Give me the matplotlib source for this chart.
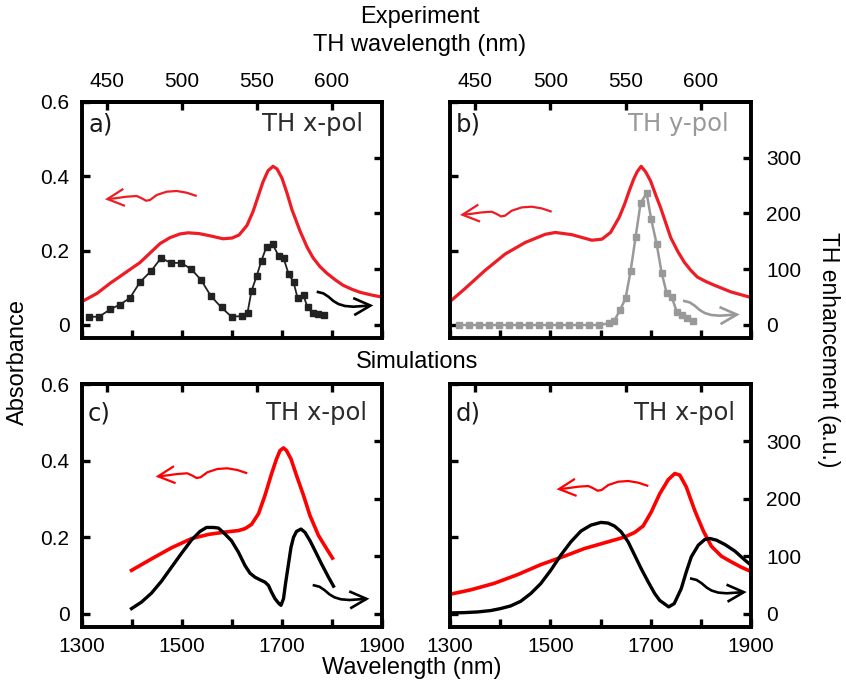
import numpy as np
import matplotlib
matplotlib.use('Agg')
import matplotlib.pyplot as plt
from matplotlib.path import Path
from matplotlib.patches import FancyArrowPatch
import matplotlib.transforms as mtransforms

plt.rcParams['font.family'] = ['Liberation Sans', 'DejaVu Sans']

# ---------------- data ----------------
# panel a: experiment, x-pol
abs_a_wl = [1300, 1330, 1356, 1386, 1416, 1456, 1476, 1496, 1512, 1534, 1556, 1582, 1600, 1614,
            1630, 1642, 1652, 1662, 1672, 1682, 1690, 1700, 1710, 1720, 1736, 1750, 1762, 1776,
            1790, 1806, 1822, 1840, 1856, 1878, 1900]
abs_a = [0.063, 0.085, 0.112, 0.140, 0.168, 0.219, 0.235, 0.245, 0.248, 0.246, 0.240, 0.232, 0.234, 0.242,
         0.268, 0.305, 0.345, 0.385, 0.415, 0.427, 0.420, 0.395, 0.355, 0.310, 0.253, 0.210, 0.181, 0.157,
         0.139, 0.122, 0.107, 0.096, 0.088, 0.081, 0.075]
th_a_wl = [1314, 1334, 1356, 1376, 1396, 1416, 1438, 1458, 1478, 1498, 1518, 1538, 1558, 1579, 1599,
           1619, 1631, 1639, 1649, 1659, 1669, 1681, 1693, 1703, 1713, 1723, 1731, 1743, 1751, 1761,
           1771, 1783]
th_a = [14.8, 14.8, 27.8, 36.7, 48.6, 77.0, 96.6, 120.0, 111.4, 111.4, 100.7, 81.0, 51.5, 31.4, 14.8,
        16.0, 21.9, 61.0, 87.0, 115.6, 140.5, 145.2, 124.5, 120.3, 92.0, 77.0, 49.0, 53.0, 31.4, 21.9,
        19.0, 17.8]

# panel b: experiment, y-pol
abs_b_wl = [1300, 1330, 1370, 1410, 1450, 1490, 1510, 1543, 1583, 1603, 1620, 1637, 1648, 1657,
            1666, 1673, 1681, 1690, 1700, 1710, 1720, 1740, 1754, 1767, 1780, 1793, 1810, 1827,
            1860, 1900]
abs_b = [0.063, 0.098, 0.147, 0.191, 0.222, 0.244, 0.249, 0.243, 0.228, 0.231, 0.249, 0.289, 0.325, 0.360,
         0.392, 0.412, 0.427, 0.412, 0.387, 0.350, 0.315, 0.235, 0.198, 0.169, 0.147, 0.129, 0.117, 0.107,
         0.089, 0.074]
th_b_wl = [1317, 1337, 1357, 1377, 1397, 1417, 1437, 1457, 1477, 1497, 1517, 1537, 1557, 1577, 1597,
           1617, 1627, 1639, 1650, 1660, 1670, 1680, 1692, 1701, 1712, 1722, 1732, 1742, 1752, 1762,
           1772, 1784]
th_b = [0, 0, 0, 0, 0, 0, 0, 0, 0, 0, 0, 0, 0, 0, 0,
        3, 7, 26.7, 48, 96.6, 158, 219, 236, 190, 145, 93, 57, 50, 24, 17.8,
        11.9, 8]

# panel c: simulation, x-pol
abs_c_wl = [1399, 1439, 1479, 1519, 1553, 1586, 1613, 1626, 1639, 1653, 1666, 1679, 1689, 1696,
            1703, 1709, 1718, 1729, 1743, 1756, 1773, 1789, 1801]
abs_c = [0.113, 0.143, 0.172, 0.196, 0.207, 0.213, 0.217, 0.222, 0.233, 0.261, 0.309, 0.365, 0.404, 0.426,
         0.433, 0.426, 0.404, 0.361, 0.309, 0.256, 0.204, 0.170, 0.145]
th_c_wl = [1399, 1419, 1439, 1459, 1479, 1499, 1519, 1536, 1549, 1563, 1573, 1586, 1599, 1613, 1626,
           1636, 1646, 1656, 1666, 1673, 1679, 1686, 1694, 1698, 1703, 1707, 1713, 1718, 1723, 1729,
           1738, 1746, 1756, 1766, 1779, 1793, 1803]
th_c = [8.7, 20.1, 35.7, 56.5, 80.8, 105.0, 128.2, 143.2, 150.1, 150.1, 149.0, 138.6, 127.0, 106.8, 83.7,
        70.4, 63.4, 58.9, 54.8, 49.0, 37.4, 26.0, 17.3, 14.4, 26.0, 52.0, 86.7, 115.5, 132.8, 143.2,
        147.3, 141.5, 127.0, 109.7, 86.7, 63.4, 47.8]

# panel d: simulation, x-pol
abs_d_wl = [1298, 1341, 1388, 1435, 1481, 1528, 1568, 1608, 1648, 1668, 1685, 1701, 1718, 1735,
            1748, 1758, 1771, 1788, 1805, 1821, 1841, 1861, 1881, 1900]
abs_d = [0.050, 0.062, 0.079, 0.102, 0.128, 0.150, 0.170, 0.185, 0.200, 0.212, 0.229, 0.265, 0.313, 0.350,
         0.366, 0.362, 0.331, 0.269, 0.216, 0.176, 0.150, 0.135, 0.121, 0.110]
th_d_wl = [1298, 1328, 1355, 1381, 1401, 1421, 1441, 1461, 1481, 1501, 1521, 1541, 1561, 1581, 1601,
           1615, 1628, 1641, 1655, 1668, 1681, 1695, 1708, 1718, 1736, 1747, 1761, 1771, 1781, 1795,
           1808, 1818, 1831, 1848, 1868, 1888, 1900]
th_d = [1.2, 1.7, 2.9, 5.3, 8.8, 13.4, 21.5, 35.0, 52.4, 75.7, 101.9, 125.1, 143.8, 154.2, 158.9,
        157.7, 152.5, 142.6, 125.1, 101.9, 78.5, 55.3, 35.0, 23.0, 11.7, 17.5, 43.6, 72.7, 98.9, 119.3,
        129.2, 130.9, 128.0, 120.4, 108.8, 93.1, 84.4]

# ---------------- styling helpers ----------------
RED_EXP = '#ee1c24'
RED_SIM = '#ff0000'
GRAY = '#999999'
TXT = '#2b2b2b'
SP_LW = 2.6
TK_LEN = 5.5
TK_W = 2.4
FS = 15
FS_LAB = 17
YL = (-0.035, 0.6)
SCALE = 400 / 0.6

fig = plt.figure(figsize=(8.46, 6.86), dpi=100)
W, H = 846.0, 686.0


def make_axes(l, b, w, h):
    return fig.add_axes([l / W, 1 - (b) / H, w / W, h / H])


# arrow templates in pixels (dx to the right, dy downward) measured from tail
red_tpl = [(0, 0), (-10, -3.3), (-20, -5), (-30, -4.3), (-40, -1), (-46.7, 4), (-50.7, 4.7),
           (-55, 2.3), (-60, 0), (-70, 0.7), (-81.7, 2.3), (-91.7, 3.3)]
blk_tpl = [(0, 0), (6.7, 1.7), (11.7, 5), (16.7, 9.3), (21.7, 12.3), (28.3, 14.3), (36.7, 15),
           (46.7, 14.3), (56.7, 13.7)]


def wavy_arrow(ax, tail, tpl, color, lw=1.6, ms=22):
    pts = [(dx * 0.72, -dy * 0.72) for dx, dy in tpl]
    path = Path(pts)
    trans = mtransforms.Affine2D().scale(fig.dpi / 72.0) + \
        mtransforms.ScaledTranslation(tail[0], tail[1], ax.transAxes)
    arr = FancyArrowPatch(path=path, arrowstyle='->,head_length=0.55,head_width=0.28',
                          mutation_scale=ms, color=color, lw=lw, transform=trans,
                          clip_on=False, zorder=10, joinstyle='miter', capstyle='butt')
    ax.add_artist(arr)


def setup_panel(ax, top_labels, bottom_labels, left_labels, right_labels):
    ax.set_xlim(1300, 1900)
    ax.set_ylim(*YL)
    for s in ax.spines.values():
        s.set_linewidth(SP_LW)
    ax.set_xticks(list(range(1300, 2000, 100)))
    if bottom_labels:
        ax.set_xticklabels(['1300', '', '1500', '', '1700', '', '1900'])
    else:
        ax.set_xticklabels([])
    ax.set_yticks([0, 0.2, 0.4, 0.6])
    if left_labels:
        ax.set_yticklabels(['0', '0.2', '0.4', '0.6'])
    else:
        ax.set_yticklabels([])
    ax.tick_params(axis='both', direction='in', length=TK_LEN, width=TK_W, labelsize=FS,
                   top=False, right=False, pad=7)
    ax.tick_params(axis='y', pad=9)

    sec = ax.secondary_xaxis('top', functions=(lambda x: x / 3.0, lambda x: x * 3.0))
    sec.set_xticks([450, 500, 550, 600])
    sec.tick_params(direction='in', length=TK_LEN, width=TK_W, labelsize=FS, pad=8,
                    labeltop=top_labels)
    sec.spines['top'].set_linewidth(SP_LW)

    axr = ax.twinx()
    axr.set_ylim(YL[0] * SCALE, YL[1] * SCALE)
    axr.set_yticks([0, 100, 200, 300])
    if right_labels:
        axr.set_yticklabels(['0', '100', '200', '300'])
    else:
        axr.set_yticklabels([])
    axr.tick_params(direction='in', length=TK_LEN, width=TK_W, labelsize=FS, pad=11)
    for s in axr.spines.values():
        s.set_linewidth(SP_LW)
    return axr


# ---------------- panels ----------------
ax_a = make_axes(82, 338, 300, 236)
ax_b = make_axes(450, 338, 301, 236)
ax_c = make_axes(82, 627, 300, 243)
ax_d = make_axes(450, 627, 301, 243)

ar_a = setup_panel(ax_a, True, False, True, False)
ar_b = setup_panel(ax_b, True, False, False, True)
ar_c = setup_panel(ax_c, False, True, True, False)
ar_d = setup_panel(ax_d, False, True, False, True)

# a
ax_a.plot(abs_a_wl, abs_a, color=RED_EXP, lw=2.3, zorder=3)
ar_a.plot(th_a_wl, th_a, color='#222222', lw=1.3, marker='s', ms=5, zorder=3)
# b
ax_b.plot(abs_b_wl, abs_b, color=RED_EXP, lw=2.3, zorder=3)
ar_b.plot(th_b_wl, th_b, color=GRAY, lw=1.8, marker='s', ms=5, zorder=3)
# c
ax_c.plot(abs_c_wl, abs_c, color=RED_SIM, lw=2.6, zorder=3)
ar_c.plot(th_c_wl, th_c, color='black', lw=2.4, zorder=3)
# d
ax_d.plot(abs_d_wl, abs_d, color=RED_SIM, lw=2.6, zorder=3)
ar_d.plot(th_d_wl, th_d, color='black', lw=2.4, zorder=3)

# panel texts
pfont = dict(family=['DejaVu Sans'], fontsize=17.5)
ax_a.text(0.02, 0.905, 'a)', transform=ax_a.transAxes, color='#1a1a1a', va='center', ha='left', **pfont)
ax_a.text(0.935, 0.905, 'TH x-pol', transform=ax_a.transAxes, color=TXT, va='center', ha='right', **pfont)
ax_b.text(0.02, 0.905, 'b)', transform=ax_b.transAxes, color='#1a1a1a', va='center', ha='left', **pfont)
ax_b.text(0.925, 0.905, 'TH y-pol', transform=ax_b.transAxes, color=GRAY, va='center', ha='right', **pfont)
ax_c.text(0.02, 0.88, 'c)', transform=ax_c.transAxes, color='#1a1a1a', va='center', ha='left', **pfont)
ax_c.text(0.95, 0.88, 'TH x-pol', transform=ax_c.transAxes, color=TXT, va='center', ha='right', **pfont)
ax_d.text(0.02, 0.88, 'd)', transform=ax_d.transAxes, color='#1a1a1a', va='center', ha='left', **pfont)
ax_d.text(0.947, 0.88, 'TH x-pol', transform=ax_d.transAxes, color=TXT, va='center', ha='right', **pfont)

# wavy arrows (tail positions in axes fraction)
wavy_arrow(ax_a, ((196.7 - 82) / 300, (338 - 196) / 236), red_tpl, RED_EXP)
wavy_arrow(ax_a, ((316.7 - 82) / 300, (338 - 291.7) / 236), blk_tpl, 'black', lw=1.9)
wavy_arrow(ax_b, ((551.7 - 450) / 301, (338 - 211.7) / 236), red_tpl, RED_EXP)
wavy_arrow(ax_b, ((683 - 450) / 301, (338 - 300.7) / 236), blk_tpl, GRAY, lw=1.9)
wavy_arrow(ax_c, ((247.3 - 82) / 300, (627 - 473.3) / 243), red_tpl, RED_SIM)
wavy_arrow(ax_c, ((312.7 - 82) / 300, (627 - 585) / 243), blk_tpl, 'black', lw=1.9)
wavy_arrow(ax_d, ((648.3 - 450) / 301, (627 - 486) / 243), red_tpl, RED_SIM)
wavy_arrow(ax_d, ((690 - 450) / 301, (627 - 578.3) / 243), blk_tpl, 'black', lw=1.9)

# figure texts
fig.text(420 / W, 1 - 17 / H, 'Experiment', ha='center', va='center', fontsize=FS_LAB)
fig.text(420 / W, 1 - 45 / H, 'TH wavelength (nm)', ha='center', va='center', fontsize=FS_LAB)
fig.text(417 / W, 1 - 362 / H, 'Simulations', ha='center', va='center', fontsize=FS_LAB)
fig.text(412 / W, 1 - 668 / H, 'Wavelength (nm)', ha='center', va='center', fontsize=FS_LAB)
fig.text(18 / W, 1 - 362 / H, 'Absorbance', ha='center', va='center', rotation=90, fontsize=FS_LAB)
fig.text(828 / W, 1 - 350 / H, 'TH enhancement (a.u.)', ha='center', va='center', rotation=270, fontsize=16.5)

fig.savefig('out.png', dpi=100)
